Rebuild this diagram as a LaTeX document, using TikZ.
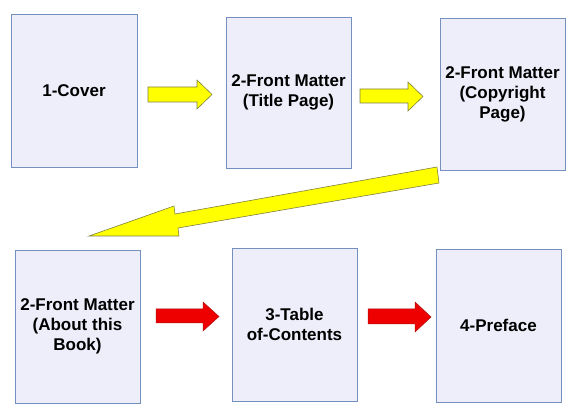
\documentclass[tikz,border=0pt]{standalone}
\usepackage{fontspec}
\setmainfont{Liberation Sans}
\definecolor{boxfill}{HTML}{EEEEFB}
\definecolor{boxline}{HTML}{7390BF}
\definecolor{yel}{HTML}{FFFF00}
\definecolor{yelline}{HTML}{7F8040}
\definecolor{redfill}{HTML}{EE0000}
\definecolor{redline}{HTML}{B01010}
\begin{document}
\begin{tikzpicture}[x=1pt,y=-1pt,
  page/.style={draw=boxline,fill=boxfill,line width=0.8pt,inner sep=0pt,align=center,
    font=\fontsize{17}{20}\selectfont\bfseries},
  yarrow/.style={fill=yel,draw=yelline,line width=0.6pt,line join=miter},
  rarrow/.style={fill=redfill,draw=redline,line width=0.5pt,line join=miter}]
\useasboundingbox (0,0) rectangle (576,419);
% pages
\newcommand{\pg}[6]{\node[page,minimum width=#4-#2,minimum height=#5-#3] (#1) at ({(#2+#4)/2},{(#3+#5)/2}) {#6};}
\pg{cover}{11}{14}{137}{167}{1-Cover}
\pg{title}{226}{17}{351}{168}{2-Front Matter\\(Title Page)}
\pg{copy}{440}{18}{565}{170}{2-Front Matter\\(Copyright\\Page)}
\pg{about}{15}{250}{140}{403}{2-Front Matter\\(About this\\Book)}
\pg{toc}{232}{248}{357}{401}{3-Table\\of-Contents}
\pg{pref}{436}{249}{561}{402}{4-Preface}
% horizontal block arrows
\newcommand{\blk}[8]{\draw[#1] (#2,#3) -- (#4,#3) -- (#4,#6) -- (#5,{(#6+#7)/2}) -- (#4,#7) -- (#4,#8) -- (#2,#8) -- cycle;}
\blk{yarrow}{148}{87}{197}{212}{80}{109}{102}
\blk{yarrow}{360}{89}{408}{423}{82}{111}{103}
\blk{rarrow}{156}{309}{203}{219}{302}{331}{323}
\blk{rarrow}{368}{309}{415}{431}{302}{332}{324}
% big diagonal arrow from copyright page to about page
\draw[yarrow] (437,167) -- (439,183) -- (178,228) -- (179,236) -- (89,236) -- (174,206) -- (175,214) -- cycle;
\end{tikzpicture}
\end{document}
